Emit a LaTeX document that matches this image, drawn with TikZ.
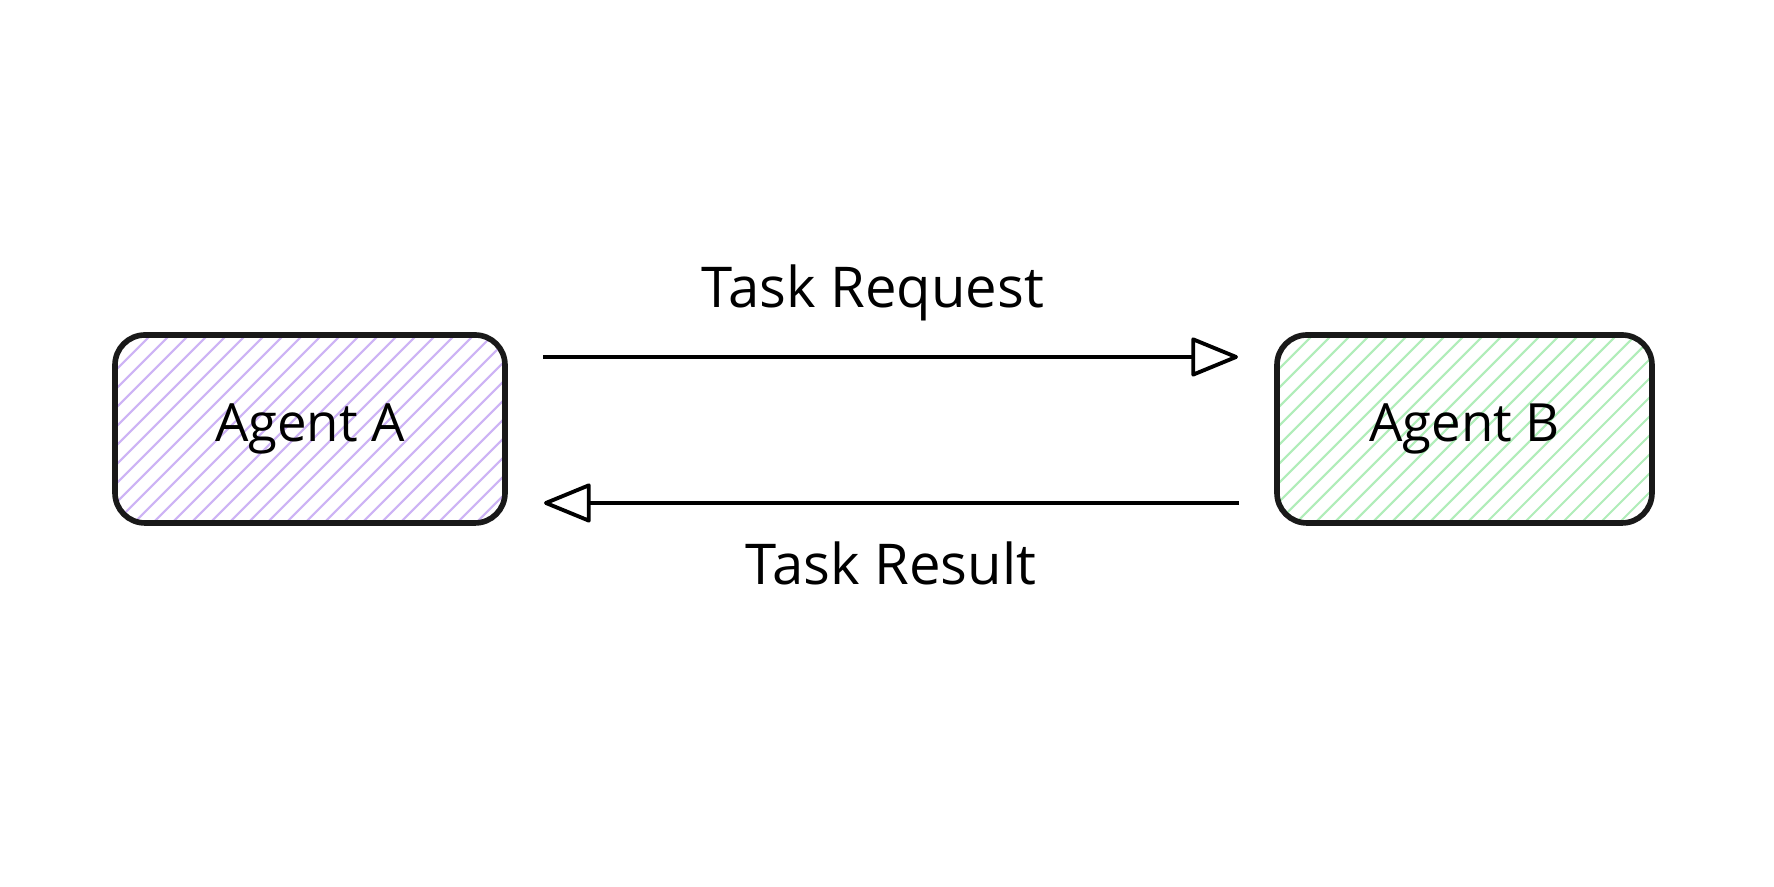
\documentclass[tikz,border=0pt]{standalone}
\usepackage{fontspec}
\setmainfont{Open Sans}
\usetikzlibrary{arrows.meta,positioning,calc}
\definecolor{hatchA}{HTML}{CDB3F5}
\definecolor{hatchB}{HTML}{B0EDB9}

\begin{document}
\begin{tikzpicture}[
      node distance=7.72cm,
      agent/.style={rectangle, draw=black!90, line width=1.6pt, rounded corners=0.3cm, minimum width=3.9cm, minimum height=1.88cm, outer sep=0pt, font=\fontsize{15}{18}\selectfont},
      hatch/.style={path picture={\foreach \k in {-10,...,21} \draw[#1, line width=0.6pt] ($(path picture bounding box.south west)+(\k*0.19,0)$) -- ++(2.2,2.2);}},
      arrow/.style={-{Triangle[open, length=0.5cm, width=0.4cm, line join=round]}, line width=1.1pt, shorten <=0.38cm, shorten >=0.39cm},
      lbl/.style={font=\fontsize{16}{19}\selectfont}
    ]
      \useasboundingbox[fill=white] (0,0) rectangle (17.74,8.87);

      \node[agent, hatch=hatchA] (agentA) at (3.10,4.58) {Agent A};
      \node[agent, hatch=hatchB, right=of agentA, minimum width=3.75cm] (agentB) {Agent B};

      \draw[arrow] ([yshift=0.72cm]agentA.east) -- node[lbl, above=0.22cm, xshift=-0.18cm] (req) {Task Request} ([yshift=0.72cm]agentB.west);
      \draw[arrow] ([yshift=-0.74cm]agentB.west) -- node[lbl, below=0.25cm] (res) {Task Result} ([yshift=-0.74cm]agentA.east);
    \end{tikzpicture}
\end{document}
